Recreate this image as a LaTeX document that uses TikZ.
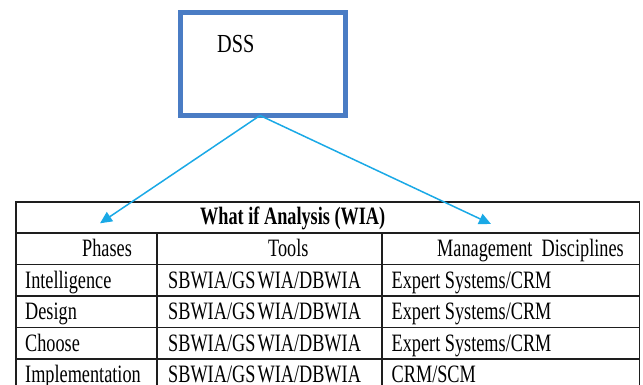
\documentclass[tikz,border=0pt]{standalone}
\usepackage{fontspec}
\setmainfont{Liberation Serif}
\usepackage{graphicx}
\usetikzlibrary{arrows.meta}
\definecolor{boxblue}{HTML}{4A7CC4}
\definecolor{arrcyan}{HTML}{1AA9E6}
\definecolor{gridc}{HTML}{1E1E1E}
\newcommand{\sq}[1]{\scalebox{0.73}[1]{#1}}
\begin{document}
\begin{tikzpicture}[x=1pt,y=-1pt,
  txt/.style={anchor=base west, inner sep=0pt, font=\fontsize{25}{30}\selectfont},
  hd/.style={anchor=base west, inner sep=0pt, font=\fontsize{25}{30}\selectfont\bfseries},
  grid/.style={draw=gridc, line width=1.6pt},
  conn/.style={draw=arrcyan, line width=1.5pt, -{Triangle[length=12pt,width=11pt]}}]
\useasboundingbox (0,0) rectangle (643,385);
% DSS box
\node[draw=boxblue, line width=4.5pt, minimum width=165pt, minimum height=103pt, outer sep=0pt, inner sep=0pt] (dss) at (263,64) {};
\node[anchor=base west, inner sep=0pt, font=\fontsize{26}{30}\selectfont] (dsst) at (217,52.5) {\scalebox{0.78}[1]{DSS}};
% table grid
\draw[grid] (16,202) -- (639.5,202);
\draw[grid] (16,233) -- (639.5,233);
\draw[grid] (16,264.5) -- (639.5,264.5);
\draw[grid] (16,296) -- (639.5,296);
\draw[grid] (16,327.5) -- (639.5,327.5);
\draw[grid] (16,359) -- (639.5,359);
\draw[grid] (16,201.2) -- (16,392);
\draw[grid] (639.5,201.2) -- (639.5,392);
\draw[grid] (157,233) -- (157,392);
\draw[grid] (382,233) -- (382,392);
% texts
\node[hd] (h) at (200,225) {\sq{What if Analysis (WIA)}};
\node[txt] (c1) at (82,256) {\sq{Phases}};
\node[txt] (c2) at (268,256) {\sq{Tools}};
\node[txt] (c3) at (437,256) {\sq{Management\ \ Disciplines}};
\node[txt] (r1a) at (25,288) {\sq{Intelligence}};
\node[txt] (r2a) at (25,319.5) {\sq{Design}};
\node[txt] (r3a) at (25,351) {\sq{Choose}};
\node[txt] (r4a) at (25,382.5) {\sq{Implementation}};
\node[txt] (r1b) at (168,288) {\sq{SBWIA/GS\kern3pt WIA/DBWIA}};
\node[txt] (r2b) at (168,319.5) {\sq{SBWIA/GS\kern3pt WIA/DBWIA}};
\node[txt] (r3b) at (168,351) {\sq{SBWIA/GS\kern3pt WIA/DBWIA}};
\node[txt] (r4b) at (168,382.5) {\sq{SBWIA/GS\kern3pt WIA/DBWIA}};
\node[txt] (r1c) at (391.5,288) {\sq{Expert Systems/CRM}};
\node[txt] (r2c) at (391.5,319.5) {\sq{Expert Systems/CRM}};
\node[txt] (r3c) at (391.5,351) {\sq{Expert Systems/CRM}};
\node[txt] (r4c) at (391.5,382.5) {\sq{CRM/SCM}};
% arrows
\coordinate (lt) at (100,223.3);
\coordinate (rt) at (491,224);
\draw[conn] ([xshift=-3pt]dss.south) -- (lt);
\draw[conn] ([xshift=-3pt]dss.south) -- (rt);
\end{tikzpicture}
\end{document}
